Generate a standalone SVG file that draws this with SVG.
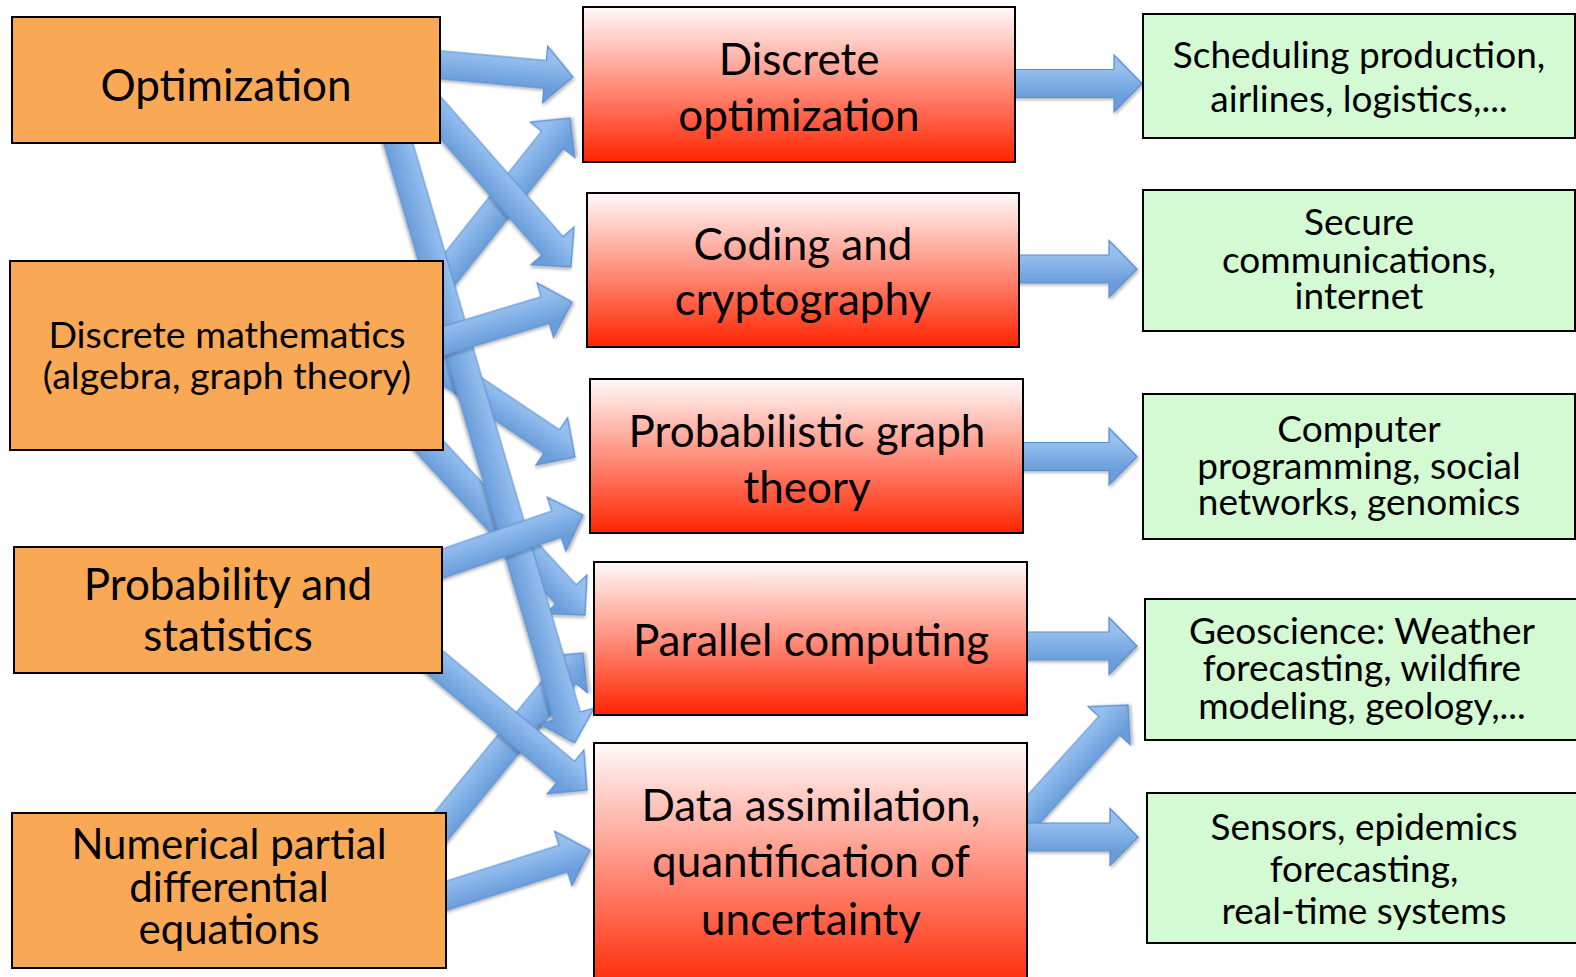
<svg xmlns="http://www.w3.org/2000/svg" width="1576" height="977" viewBox="0 0 1576 977">
<defs>
<linearGradient id="gArr" x1="0" y1="0" x2="0" y2="1">
<stop offset="0.25" stop-color="#95BFEF"/>
<stop offset="0.75" stop-color="#6A9DDA"/>
</linearGradient>
<linearGradient id="gRed" x1="0" y1="0" x2="0" y2="1">
<stop offset="0" stop-color="#FFFAFA"/>
<stop offset="1" stop-color="#FF2400"/>
</linearGradient>
<filter id="sh" x="-20%" y="-20%" width="140%" height="140%">
<feDropShadow dx="1.5" dy="2" stdDeviation="1.8" flood-color="#000" flood-opacity="0.28"/>
</filter>
</defs>
<style>
.arr{fill:url(#gArr);stroke:#5A8ED0;stroke-width:1.2;filter:url(#sh)}
.org{fill:#F9A856;stroke:#000;stroke-width:2}
.red{fill:url(#gRed);stroke:#000;stroke-width:2}
.grn{fill:#D4FAD3;stroke:#000;stroke-width:2}
text{font-family:Lato,"Open Sans","Liberation Sans",sans-serif;fill:#000;text-anchor:middle}
.f44{font-size:44px}
.f42{font-size:42px}
.f37{font-size:37px}
.f38{font-size:37.6px}
</style>
<rect width="1576" height="977" fill="#fff"/>
<g id="connectors">
<path class="arr" transform="translate(430 294) rotate(-51.5)" d="M0,-14H196.9V-28.5L224.9,0L196.9,28.5V14H0Z"/>
<path class="arr" transform="translate(425 100) rotate(48.84)" d="M0,-14H193.8V-28.5L221.8,0L193.8,28.5V14H0Z"/>
<path class="arr" transform="translate(430 360) rotate(33.78)" d="M0,-14H146.45V-28.5L174.45,0L146.45,28.5V14H0Z"/>
<path class="arr" transform="translate(420 436) rotate(47.33)" d="M0,-14H215.4V-28.5L243.4,0L215.4,28.5V14H0Z"/>
<path class="arr" transform="translate(430 840) rotate(-50.7)" d="M0,-14H213.6V-28.5L241.6,0L213.6,28.5V14H0Z"/>
<path class="arr" transform="translate(390 115) rotate(73.6)" d="M0,-14H626.5V-28.5L654.5,0L626.5,28.5V14H0Z"/>
<path class="arr" transform="translate(420 63) rotate(5.23)" d="M0,-14H125.6V-28.5L153.6,0L125.6,28.5V14H0Z"/>
<path class="arr" transform="translate(430 345) rotate(-16.85)" d="M0,-14H120.4V-28.5L148.4,0L120.4,28.5V14H0Z"/>
<path class="arr" transform="translate(430 568) rotate(-19.1)" d="M0,-14H133.9V-28.5L161.9,0L133.9,28.5V14H0Z"/>
<path class="arr" transform="translate(425 654) rotate(40)" d="M0,-14H183.5V-28.5L211.5,0L183.5,28.5V14H0Z"/>
<path class="arr" transform="translate(430 901) rotate(-17.68)" d="M0,-14H139.9V-28.5L167.9,0L139.9,28.5V14H0Z"/>
<path class="arr" transform="translate(1005 83.5)" d="M0,-14H109V-28.5L137,0L109,28.5V14H0Z"/>
<path class="arr" transform="translate(1005 269)" d="M0,-14H104V-28.5L132,0L104,28.5V14H0Z"/>
<path class="arr" transform="translate(1010 456.5)" d="M0,-14H99V-28.5L127,0L99,28.5V14H0Z"/>
<path class="arr" transform="translate(1015 646)" d="M0,-14H94V-28.5L122,0L94,28.5V14H0Z"/>
<path class="arr" transform="translate(1015 830) rotate(-47.9)" d="M0,-14H140.5V-28.5L168.5,0L140.5,28.5V14H0Z"/>
<path class="arr" transform="translate(1015 837)" d="M0,-14H95V-28.5L123,0L95,28.5V14H0Z"/>
</g>
<g id="optimization">
<rect class="org" x="12" y="17" width="428" height="126"/>
<text class="f44" x="226" y="101">Optimization</text>
</g>
<g id="discrete-math">
<rect class="org" x="10" y="261" width="433" height="189"/>
<text class="f38" x="227" y="348">Discrete mathematics</text>
<text class="f38" x="227" y="389">(algebra, graph theory)</text>
</g>
<g id="probability">
<rect class="org" x="14" y="547" width="428" height="126"/>
<text class="f44" x="228" y="600">Probability and</text>
<text class="f44" x="228" y="651">statistics</text>
</g>
<g id="numerical-pde">
<rect class="org" x="12" y="813" width="434" height="155"/>
<text class="f42" x="229" y="859">Numerical partial</text>
<text class="f42" x="229" y="902">differential</text>
<text class="f42" x="229" y="944">equations</text>
</g>
<g id="discrete-optimization">
<rect class="red" x="583" y="7" width="432" height="155"/>
<text class="f44" x="799" y="75">Discrete</text>
<text class="f44" x="799" y="131">optimization</text>
</g>
<g id="coding">
<rect class="red" x="587" y="193" width="432" height="154"/>
<text class="f44" x="803" y="260">Coding and</text>
<text class="f44" x="803" y="315">cryptography</text>
</g>
<g id="probabilistic-graph">
<rect class="red" x="590" y="379" width="433" height="154"/>
<text class="f44" x="807" y="447">Probabilistic graph</text>
<text class="f44" x="807" y="503">theory</text>
</g>
<g id="parallel">
<rect class="red" x="594" y="562" width="433" height="153"/>
<text class="f44" x="811" y="656">Parallel computing</text>
</g>
<g id="data-assimilation">
<rect class="red" x="594" y="743" width="433" height="250"/>
<text class="f44" x="811" y="821">Data assimilation,</text>
<text class="f44" x="811" y="877">quantification of</text>
<text class="f44" x="811" y="935">uncertainty</text>
</g>
<g id="scheduling">
<rect class="grn" x="1143" y="14" width="432" height="124"/>
<text class="f37" x="1359" y="68">Scheduling production,</text>
<text class="f37" x="1359" y="112">airlines, logistics,...</text>
</g>
<g id="secure">
<rect class="grn" x="1143" y="190" width="432" height="141"/>
<text class="f37" x="1359" y="235">Secure</text>
<text class="f37" x="1359" y="273">communications,</text>
<text class="f37" x="1359" y="309">internet</text>
</g>
<g id="computer">
<rect class="grn" x="1143" y="394" width="432" height="145"/>
<text class="f37" x="1359" y="442">Computer</text>
<text class="f37" x="1359" y="479">programming, social</text>
<text class="f37" x="1359" y="515">networks, genomics</text>
</g>
<g id="geoscience">
<rect class="grn" x="1145" y="599" width="432" height="141"/>
<text class="f37" x="1362" y="644">Geoscience: Weather</text>
<text class="f37" x="1362" y="681">forecasting, wildfire</text>
<text class="f37" x="1362" y="719">modeling, geology,...</text>
</g>
<g id="sensors">
<rect class="grn" x="1147" y="793" width="432" height="150"/>
<text class="f37" x="1364" y="840">Sensors, epidemics</text>
<text class="f37" x="1364" y="882">forecasting,</text>
<text class="f37" x="1364" y="924">real-time systems</text>
</g>
</svg>
